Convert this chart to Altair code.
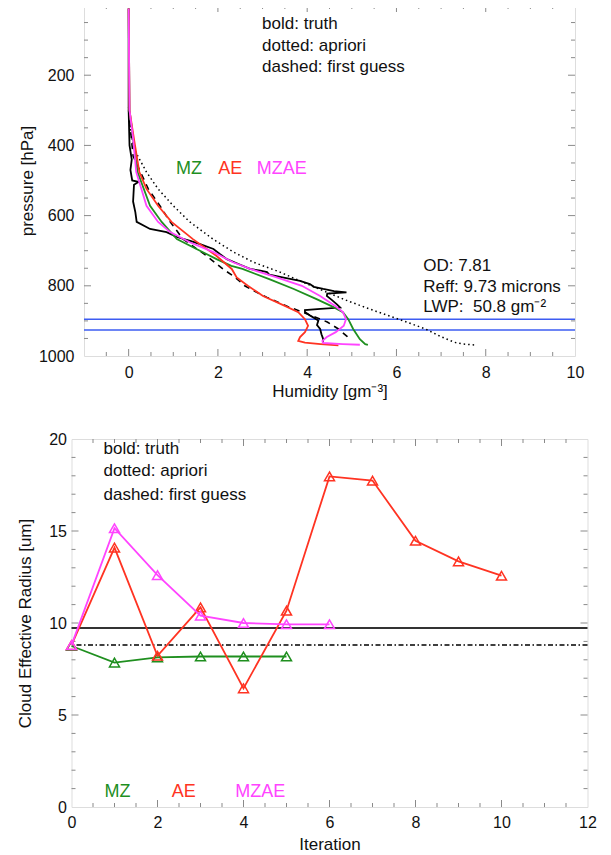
import altair as alt
import pandas as pd

FONT = "Liberation Sans"
FRAME = "#8a8a8a"
INK = "#111111"
GREEN = "#1f8f1f"
RED = "#ff3322"
MAGENTA = "#ff44ff"
BLUE = "#3d5cf2"

# ---------------- top panel: humidity profiles ----------------
truth_p = [10, 300, 400, 440, 470, 500, 504, 512, 560, 590, 618, 638, 647, 661, 672, 681, 695, 710,
           724, 740, 752, 757, 761, 768, 775, 786, 795, 803, 809, 815, 819, 822, 829, 840, 852, 862,
           866, 869, 875, 885, 899, 912, 923, 938, 952, 962]
truth_h = [0.0, 0.0, 0.02, 0.07, 0.04, 0.08, 0.22, 0.12, 0.10, 0.15, 0.18, 0.48, 0.85, 1.08, 1.38, 1.60,
           1.90, 2.05, 2.20, 2.50, 2.72, 2.95, 3.10, 3.15, 3.42, 3.84, 4.06, 4.15, 4.36, 4.60, 4.88, 4.45,
           4.44, 4.55, 4.66, 4.74, 4.30, 3.95, 3.95, 4.07, 4.25, 4.22, 4.29, 4.32, 4.36, 4.35]

apriori_p = [290, 350, 410, 476, 524, 572, 618, 667, 704, 733, 761, 790, 819, 845, 873, 895, 923,
             945, 961, 966, 969]
apriori_h = [0.0, 0.03, 0.12, 0.40, 0.66, 1.00, 1.37, 1.89, 2.35, 2.80, 3.39, 3.91, 4.45, 4.95, 5.55,
             6.05, 6.65, 7.00, 7.30, 7.50, 7.80]

guess_p = [300, 430, 524, 572, 618, 667, 715, 752, 775, 800, 814, 833, 861, 875, 903, 923, 945, 955]
guess_h = [0.0, 0.10, 0.44, 0.70, 0.93, 1.22, 1.75, 2.11, 2.38, 2.60, 2.80, 3.10, 3.60, 3.90, 4.45,
           4.70, 4.90, 4.97]

mz_p = [10, 300, 380, 476, 572, 618, 667, 695, 724, 743, 752, 781, 809, 838, 860, 875, 895, 923,
        952, 966, 968]
mz_h = [0.0, 0.02, 0.10, 0.20, 0.48, 0.74, 1.08, 1.52, 1.97, 2.30, 2.55, 3.15, 3.70, 4.21, 4.58,
        4.80, 4.92, 5.03, 5.18, 5.30, 5.36]

ae_p = [10, 300, 382, 476, 524, 572, 618, 667, 715, 752, 776, 800, 829, 857, 875, 895, 914, 932,
        946, 957, 962, 966, 970]
ae_h = [0.0, 0.02, 0.12, 0.24, 0.40, 0.66, 0.96, 1.44, 1.97, 2.31, 2.42, 2.67, 3.01, 3.50, 3.80,
        3.95, 4.02, 3.95, 3.84, 3.80, 3.95, 4.30, 4.70]

mzae_p = [10, 300, 380, 476, 572, 618, 647, 676, 704, 733, 752, 775, 800, 829, 857, 875, 895, 914,
          932, 946, 957, 963, 966, 968]
mzae_h = [0.0, 0.02, 0.10, 0.17, 0.40, 0.66, 0.93, 1.37, 1.90, 2.34, 2.72, 3.30, 3.88, 4.29, 4.62,
          4.80, 4.87, 4.82, 4.64, 4.44, 4.34, 4.36, 4.80, 5.18]

cloud_band_p = [895, 926]

top_notes = ["bold: truth", "dotted: apriori", "dashed: first guess"]
top_notes_p = [54, 117, 177]
top_notes_h = 2.99
cloud_notes = ["OD: 7.81", "Reff: 9.73 microns", "LWP:\u00a0 50.8 gm\u207b\u00b2"]
cloud_notes_p = [744, 804, 861]
cloud_notes_h = 6.6
top_label_p = 467
top_label_h = [1.06, 2.01, 2.87]
run_names = ["MZ", "AE", "MZAE"]

top_x_ticks = [0, 2, 4, 6, 8, 10]
top_y_ticks = [200, 400, 600, 800, 1000]

# ---------------- bottom panel: effective radius vs iteration ----------------
mz_iter = [0, 1, 2, 3, 4, 5]
mz_reff = [8.75, 7.85, 8.13, 8.18, 8.18, 8.18]
ae_iter = [0, 1, 2, 3, 4, 5, 6, 7, 8, 9, 10]
ae_reff = [8.8, 14.1, 8.22, 10.85, 6.45, 10.67, 17.97, 17.74, 14.47, 13.35, 12.57]
mzae_iter = [0, 1, 2, 3, 4, 5, 6]
mzae_reff = [8.8, 15.15, 12.6, 10.4, 10.0, 9.93, 9.93]
truth_reff = 9.73
guess_reff = 8.8

bot_notes_x = 0.744
bot_notes_y = [19.46, 18.26, 16.96]
bot_label_y = 0.82
bot_label_x = [0.767, 2.33, 3.81]

bot_x_ticks = [0, 2, 4, 6, 8, 10, 12]
bot_y_ticks = [0, 5, 10, 15, 20]

assert len(truth_p) == len(truth_h) and len(apriori_p) == len(apriori_h)
assert len(guess_p) == len(guess_h) and len(mz_p) == len(mz_h)
assert len(ae_p) == len(ae_h) and len(mzae_p) == len(mzae_h)

# ---------------- layout constants ----------------
W1, H1 = 491, 351
W2, H2 = 516, 368
MAJ, MIN = 7, 4


def x_axis(values, title, pad, title_y, width):
    return alt.Axis(values=values, title=title, format="d", grid=False, domain=False,
                    ticks=False, tickSize=0, labelPadding=pad, labelBaseline="middle",
                    labelFlush=False, labelOverlap=False, labelBound=False,
                    labelFont=FONT, labelFontSize=16, labelColor=INK,
                    titleFont=FONT, titleFontSize=17, titleFontWeight="normal", titleColor=INK,
                    titleBaseline="middle", titleAlign="center", titleX=width / 2, titleY=title_y)


def y_axis(values, title, pad, title_x, height):
    return alt.Axis(values=values, title=title, format="d", grid=False, domain=False,
                    ticks=False, tickSize=0, labelPadding=pad,
                    labelFlush=False, labelOverlap=False, labelBound=False,
                    labelFont=FONT, labelFontSize=16, labelColor=INK,
                    titleFont=FONT, titleFontSize=17, titleFontWeight="normal", titleColor=INK,
                    titleBaseline="middle", titleAlign="center", titleAngle=270,
                    titleX=title_x, titleY=height / 2)


TXS = alt.Scale(domain=[-1, 10], nice=False, zero=False)
TYS = alt.Scale(domain=[0, 1000], nice=False, zero=False, reverse=True)
TXA = x_axis(top_x_ticks, "Humidity [gm\u207b\u00b3]", 16, 35, W1)
TYA = y_axis(top_y_ticks, "pressure [hPa]", 10, -57, H1)

BXS = alt.Scale(domain=[0, 12], nice=False, zero=False)
BYS = alt.Scale(domain=[0, 20], nice=False, zero=False)
BXA = x_axis(bot_x_ticks, "Iteration", 15, 37, W2)
BYA = y_axis(bot_y_ticks, "Cloud Effective Radius [um]", 5, -46, H2)


def tx(f):
    return alt.X(f, type="quantitative", scale=TXS, axis=TXA)


def ty(f):
    return alt.Y(f, type="quantitative", scale=TYS, axis=TYA)


def bx(f):
    return alt.X(f, type="quantitative", scale=BXS, axis=BXA)


def by(f):
    return alt.Y(f, type="quantitative", scale=BYS, axis=BYA)


def profile(h, p, color, width, dash=None):
    df = pd.DataFrame({"h": h, "p": p, "i": list(range(len(h)))})
    kw = dict(color=color, strokeWidth=width, clip=True)
    if dash is not None:
        kw["strokeDash"] = dash
    return alt.Chart(df).mark_line(**kw).encode(x=tx("h"), y=ty("p"), order=alt.Order("i:Q"))


def notes(xs, ys, texts, color, size, fx, fy):
    df = pd.DataFrame({"x": xs, "y": ys, "t": texts})
    return alt.Chart(df).mark_text(align="left", baseline="middle", font=FONT, fontSize=size,
                                   color=color).encode(x=fx("x"), y=fy("y"), text="t:N")


def frame_ticks(xmaj, xmin, ymaj, ymin, fx, fy, W, H):
    layers = []
    for vals, L in ((xmaj, MAJ), (xmin, MIN)):
        df = pd.DataFrame({"v": vals})
        base = alt.Chart(df).mark_tick(orient="vertical", size=L, thickness=1, color=FRAME, opacity=1)
        layers.append(base.encode(x=fx("v"), y=alt.value(H - L / 2)))
        layers.append(base.encode(x=fx("v"), y=alt.value(L / 2)))
    for vals, L in ((ymaj, MAJ), (ymin, MIN)):
        df = pd.DataFrame({"v": vals})
        base = alt.Chart(df).mark_tick(orient="horizontal", size=L, thickness=1, color=FRAME, opacity=1)
        layers.append(base.encode(y=fy("v"), x=alt.value(L / 2)))
        layers.append(base.encode(y=fy("v"), x=alt.value(W - L / 2)))
    return layers


# tick positions (inward IDL-style ticks)
top_xmaj = [0, 2, 4, 6, 8]
top_xmin = [v / 2 for v in range(-1, 20) if v % 4 != 0]
top_ymaj = [200, 400, 600, 800]
top_ymin = [v for v in range(50, 1000, 50) if v % 200 != 0]
bot_xmaj = [2, 4, 6, 8, 10]
bot_xmin = [v / 2 for v in range(1, 24) if v % 4 != 0]
bot_ymaj = [5, 10, 15]
bot_ymin = [v for v in range(1, 20) if v % 5 != 0]

band = alt.Chart(pd.DataFrame({"p": cloud_band_p})).mark_rule(color=BLUE, strokeWidth=1.5).encode(y=ty("p"))

top_layers = frame_ticks(top_xmaj, top_xmin, top_ymaj, top_ymin, tx, ty, W1, H1) + [
    band,
    profile(truth_h, truth_p, "#000000", 1.8),
    profile(apriori_h, apriori_p, "#000000", 1.5, [1.5, 3]),
    profile(guess_h, guess_p, "#000000", 1.6, [6, 5]),
    profile(mz_h, mz_p, GREEN, 1.8),
    profile(ae_h, ae_p, RED, 1.8),
    profile(mzae_h, mzae_p, MAGENTA, 1.8),
    notes([top_notes_h] * 3, top_notes_p, top_notes, INK, 17, tx, ty),
    notes([cloud_notes_h] * 3, cloud_notes_p, cloud_notes, INK, 17, tx, ty),
    notes([top_label_h[0]], [top_label_p], [run_names[0]], GREEN, 18, tx, ty),
    notes([top_label_h[1]], [top_label_p], [run_names[1]], RED, 18, tx, ty),
    notes([top_label_h[2]], [top_label_p], [run_names[2]], MAGENTA, 18, tx, ty),
]
top = alt.layer(*top_layers).properties(width=W1, height=H1)


def run(iters, reff, color):
    df = pd.DataFrame({"it": iters, "r": reff})
    line = alt.Chart(df).mark_line(color=color, strokeWidth=1.8).encode(x=bx("it"), y=by("r"))
    pts = alt.Chart(df).mark_point(shape="triangle-up", filled=False, size=100, strokeWidth=1.5,
                                   color=color, opacity=1).encode(x=bx("it"), y=by("r"))
    return [line, pts]


truth_rule = alt.Chart(pd.DataFrame({"r": [truth_reff]})).mark_rule(color="#333333", strokeWidth=2).encode(y=by("r"))
guess_rule = alt.Chart(pd.DataFrame({"r": [guess_reff]})).mark_rule(
    color="#000000", strokeWidth=1.5, strokeDash=[5, 2.5, 1.5, 2.5]).encode(y=by("r"))

bot_layers = frame_ticks(bot_xmaj, bot_xmin, bot_ymaj, bot_ymin, bx, by, W2, H2) + [
    truth_rule, guess_rule,
] + run(mz_iter, mz_reff, GREEN) + run(ae_iter, ae_reff, RED) + run(mzae_iter, mzae_reff, MAGENTA) + [
    notes([bot_notes_x] * 3, bot_notes_y, top_notes, INK, 17, bx, by),
    notes([bot_label_x[0]], [bot_label_y], [run_names[0]], GREEN, 18, bx, by),
    notes([bot_label_x[1]], [bot_label_y], [run_names[1]], RED, 18, bx, by),
    notes([bot_label_x[2]], [bot_label_y], [run_names[2]], MAGENTA, 18, bx, by),
]
bottom = alt.layer(*bot_layers).properties(width=W2, height=H2)

chart = alt.vconcat(top, bottom, spacing=83, bounds="flush", center=True).properties(
    padding={"left": 7.5, "top": -4, "right": 5, "bottom": 5}
).configure_view(stroke=FRAME, strokeWidth=1).configure(background="white")

chart.save("out.html", embed_options={"renderer": "svg", "actions": False})
